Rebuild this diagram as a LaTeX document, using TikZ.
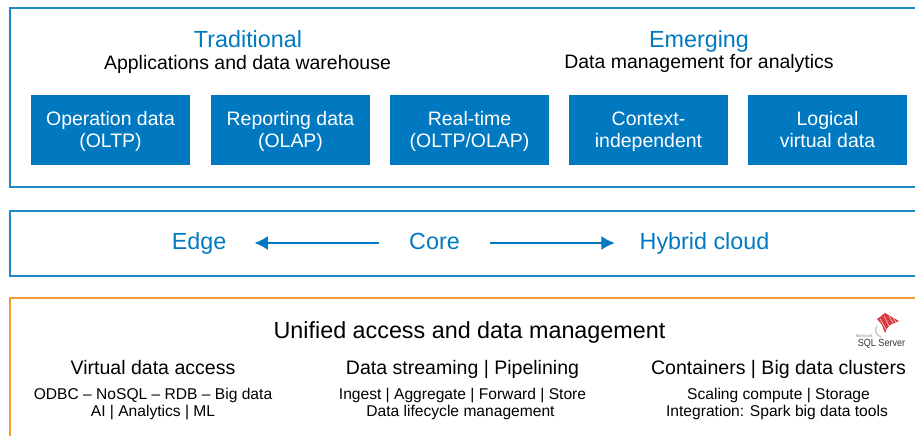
\documentclass[tikz,border=0pt]{standalone}
\usepackage{fontspec}
\setmainfont{Liberation Sans}
\usetikzlibrary{arrows.meta}
\definecolor{hpeblue}{HTML}{0079C1}
\definecolor{framered}{HTML}{F39C32}
\definecolor{logored}{HTML}{DB3A3E}
\newcommand{\twolines}[2]{\rule{0pt}{15pt}#1\strut\\#2\strut}
\tikzset{
	panel/.style={line width=1.5pt, draw=hpeblue!88!white},
	databox/.style={fill=hpeblue, text=white, minimum width=119.25pt, minimum height=52.5pt, inner sep=0pt, align=center, font=\fontsize{14.6}{17}\selectfont},
	bluehead/.style={text=hpeblue, inner sep=0pt, anchor=base, font=\fontsize{17.5}{20}\selectfont},
	subhead/.style={inner sep=0pt, anchor=base, font=\fontsize{14.6}{17}\selectfont},
	spanlabel/.style={text=hpeblue, inner sep=0pt, outer xsep=22.75pt, text height=14pt, text depth=4pt, font=\fontsize{17.5}{20}\selectfont},
	colhead/.style={inner sep=0pt, anchor=base, font=\fontsize{14.65}{17}\selectfont},
	coltext/.style={inner sep=0pt, anchor=base, font=\fontsize{11.7}{14}\selectfont},
	spanarrow/.style={line width=1pt, draw=hpeblue, -{Latex[length=10pt,width=10.5pt]}}
}
\begin{document}
\begin{tikzpicture}[x=0.75pt, y=-0.75pt]
	\useasboundingbox (0,0) rectangle (915,436);

	% frames, open at the right edge
	\draw[panel] (915,8) -- (10,8) -- (10,187) -- (915,187);
	\draw[panel] (915,211) -- (10,211) -- (10,276) -- (915,276);
	\draw[line width=1.5pt, draw=framered] (915,298) -- (10,298) -- (10,436);

	% top panel
	\node[bluehead] (trad) at (248,47) {Traditional};
	\node[subhead] (apps) at (247.5,69) {Applications and data warehouse};
	\node[bluehead] (emerg) at (699,47) {Emerging};
	\node[subhead] (mgmt) at (699,68) {Data management for analytics};

	\node[databox] (oper) at (110.5,130) {\twolines{Operation data}{(OLTP)}};
	\node[databox] (report) at (290.5,130) {\twolines{Reporting data}{(OLAP)}};
	\node[databox] (real) at (469.5,130) {\twolines{Real-time}{(OLTP/OLAP)}};
	\node[databox] (context) at (648.5,130) {\twolines{Context-}{independent}};
	\node[databox] (logical) at (827.5,130) {\twolines{Logical}{virtual data}};

	% middle panel
	\node[spanlabel, outer xsep=21.25pt] (edge) at (199,243) {Edge};
	\node[spanlabel] (core) at (434.5,243) {Core};
	\node[spanlabel, outer xsep=18.75pt] (hybrid) at (704.5,243) {Hybrid cloud};
	\draw[spanarrow] (core.west) -- (edge.east);
	\draw[spanarrow] (core.east) -- (hybrid.west);

	% bottom panel
	\node[inner sep=0pt, anchor=base, font=\fontsize{17.5}{20}\selectfont] (unified) at (469.5,338) {Unified access and data management};

	\node[colhead] (virt) at (153,374) {Virtual data access};
	\node[coltext] (virta) at (153,399) {ODBC -- NoSQL -- RDB -- Big data};
	\node[coltext] (virtb) at (153,416) {AI | Analytics | ML};
	\node[colhead] (stream) at (462.5,374) {Data streaming | Pipelining};
	\node[coltext] (streama) at (462.5,399) {Ingest | Aggregate | Forward | Store};
	\node[coltext] (streamb) at (460.5,416) {Data lifecycle management};
	\node[colhead] (contain) at (778.5,374) {Containers | Big data clusters};
	\node[coltext] (containa) at (778.5,399) {Scaling compute | Storage};
	\node[coltext] (containb) at (777,416) {Integration: Spark big data tools};

	% sql server logo
	\fill[logored] (877,319) .. controls (882,316) and (884,313) .. (885,313) -- (899,321) -- (890,325) .. controls (887,328) and (886,330) .. (885,333) -- (882,325) -- cycle;
	\draw[white, line width=0.3pt] (880,319) -- (887,331) (884,316) -- (889,326) (889,316) -- (893,323) (893,318) -- (896,322);
	\draw[gray!45, line width=1pt] (877,326) .. controls (874,331) and (876,335) .. (881,337);
	\node[inner sep=0pt, text=black!50, font=\fontsize{3}{3}\selectfont] (mslogo) at (864,336) {Microsoft};
	\node[inner sep=0pt, text=black!80, transform shape, xscale=0.87, font=\fontsize{7.8}{8}\selectfont] (sqllogo) at (881.5,344) {SQL Server};
\end{tikzpicture}
\end{document}
